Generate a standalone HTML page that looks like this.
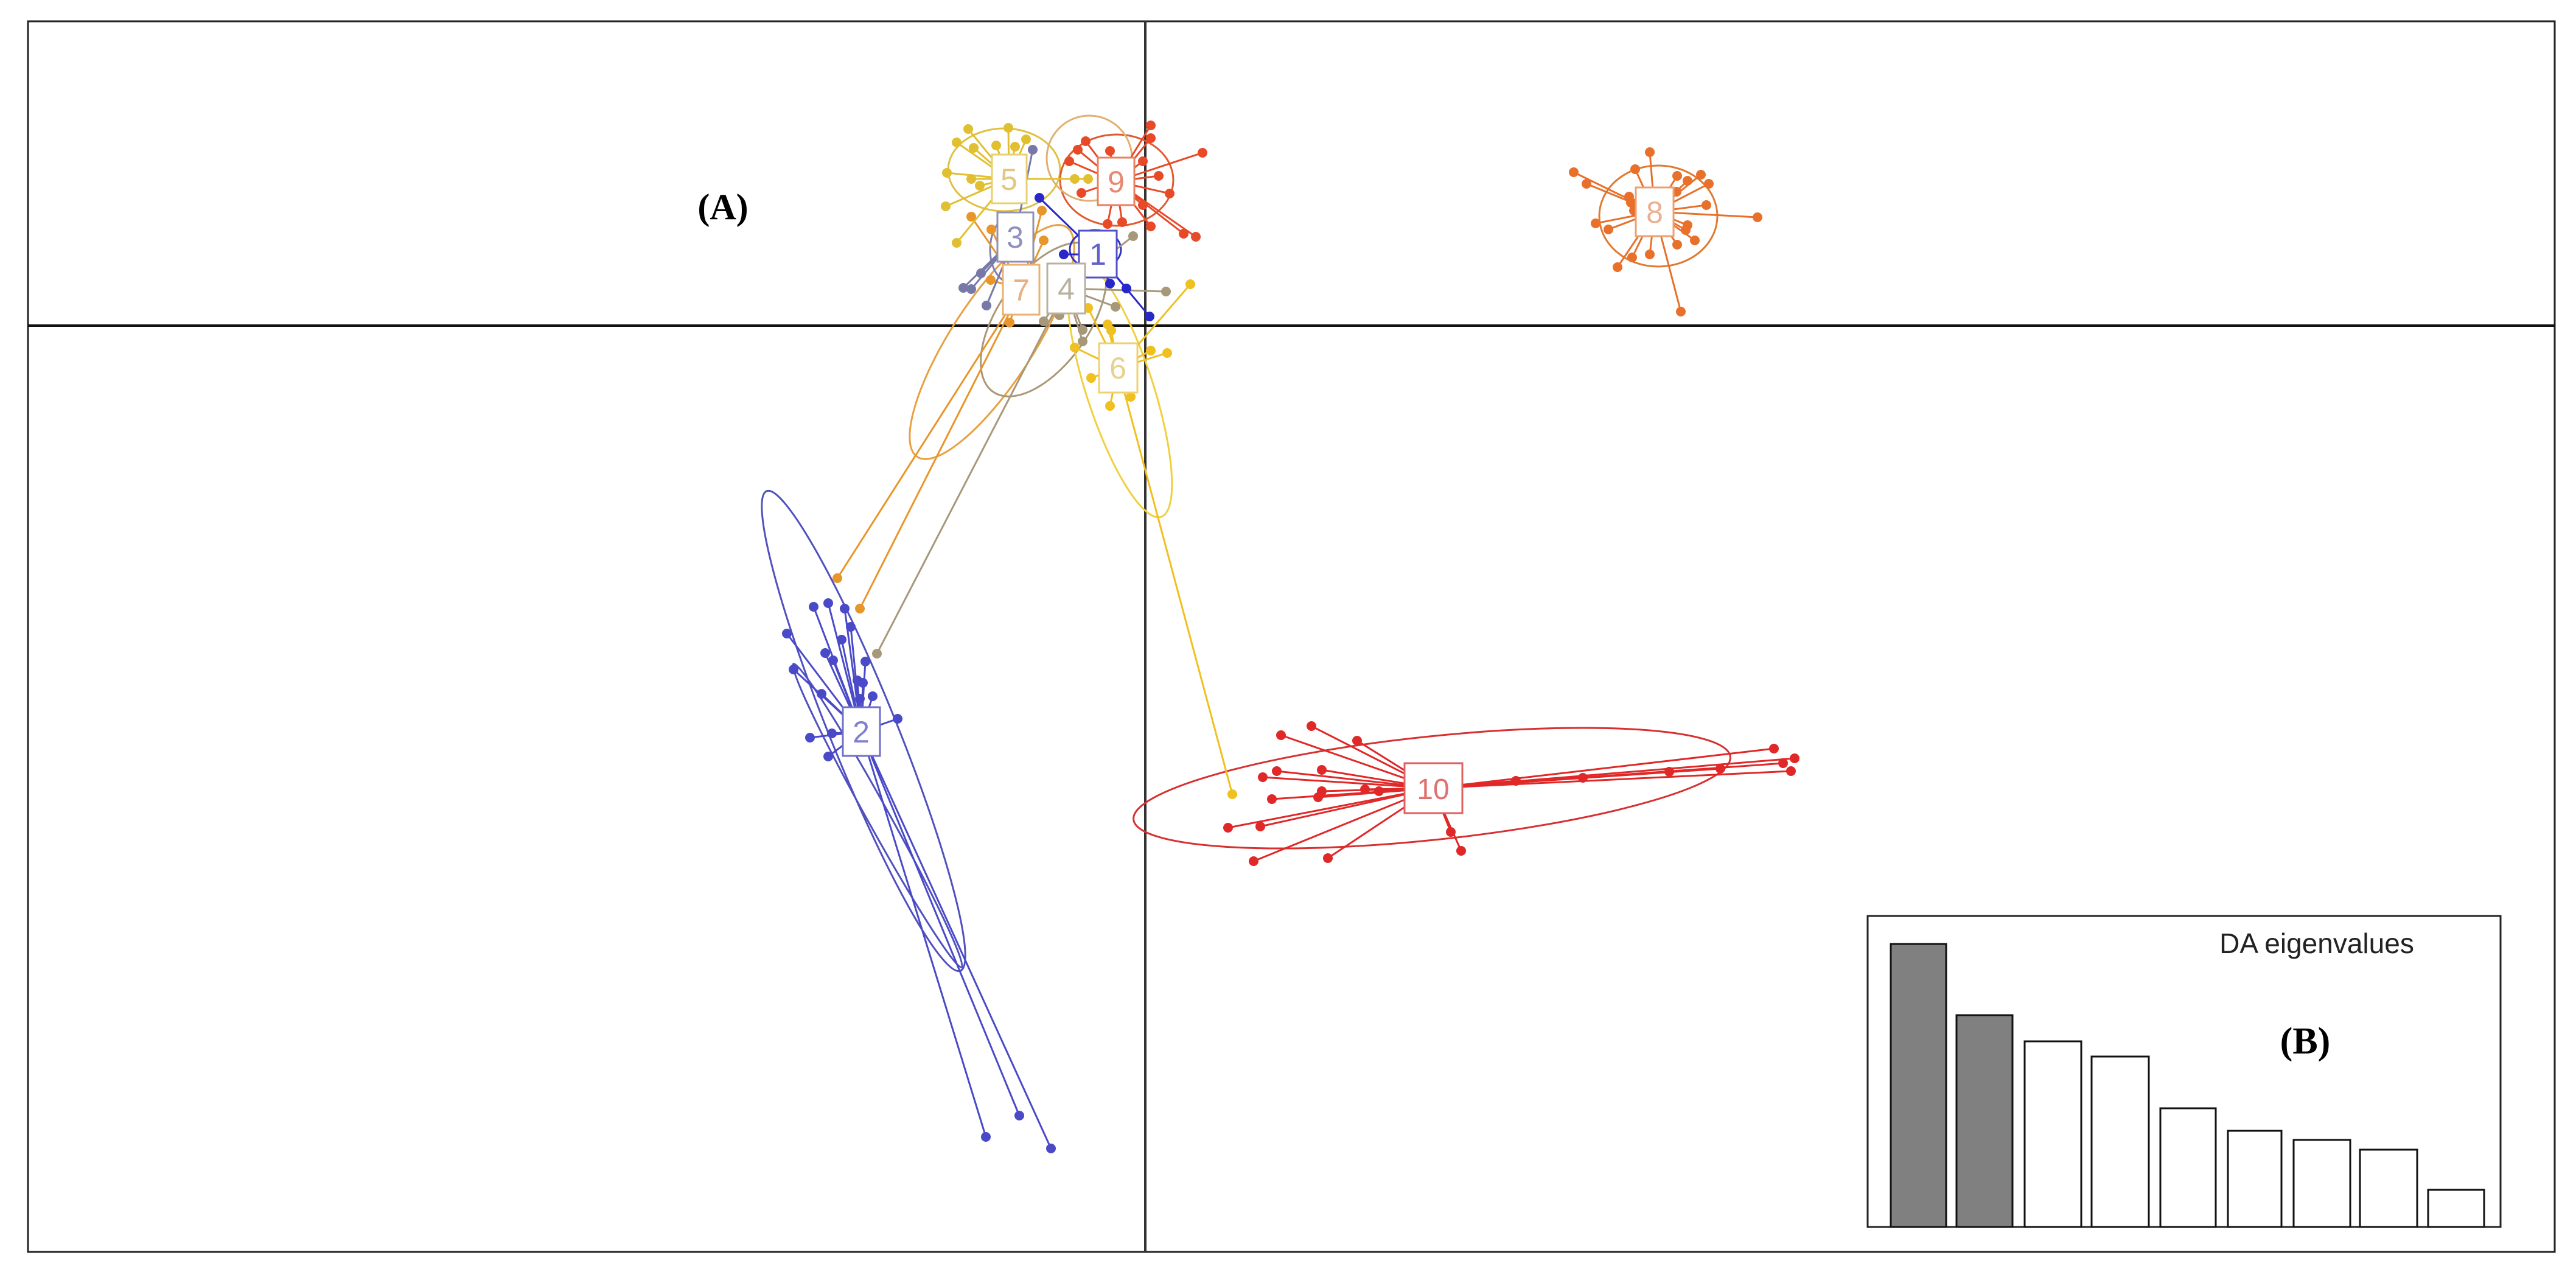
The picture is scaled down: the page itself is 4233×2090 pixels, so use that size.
<!DOCTYPE html>
<html><head><meta charset="utf-8"><style>
html,body{margin:0;padding:0;background:#fff;}
svg{display:block;}
text{font-family:"Liberation Sans",sans-serif;}
</style></head><body>
<svg id="s" width="4233" height="2090" viewBox="0 0 4233 2090" xmlns="http://www.w3.org/2000/svg">
<rect x="0" y="0" width="4233" height="2090" fill="#fff"/>
<rect x="46" y="35" width="4152" height="2022" fill="none" stroke="#222" stroke-width="3"/>
<line x1="1882" y1="35" x2="1882" y2="2057" stroke="#333" stroke-width="4"/>
<line x1="46" y1="535" x2="4198" y2="535" stroke="#111" stroke-width="4"/>
<g id="ell" fill="none" stroke-width="3">
<ellipse cx="1419" cy="1201" rx="425" ry="55" transform="rotate(68 1419 1201)" stroke="#5050c0"/>
<ellipse cx="1442" cy="1340" rx="285" ry="18" transform="rotate(61 1442 1340)" stroke="#5050c0"/>
<ellipse cx="2353" cy="1295" rx="493" ry="85" transform="rotate(-6 2353 1295)" stroke="#d83030"/>
<ellipse cx="2725" cy="355" rx="97" ry="83" stroke="#e07a30"/>
<ellipse cx="1650" cy="279" rx="92" ry="68" stroke="#e0c040"/>
<ellipse cx="1835" cy="296" rx="93" ry="75" stroke="#e05a30"/>
<ellipse cx="1790" cy="260" rx="70" ry="70" stroke="#e0b070"/>
<ellipse cx="1630" cy="562" rx="225" ry="68" transform="rotate(-57 1630 562)" stroke="#e8a040"/>
<ellipse cx="1715" cy="525" rx="145" ry="75" transform="rotate(-55 1715 525)" stroke="#a89878"/>
<ellipse cx="1840" cy="640" rx="220" ry="55" transform="rotate(72 1840 640)" stroke="#f0d040"/>
<ellipse cx="1662" cy="410" rx="35" ry="55" stroke="#8080b0"/>
<ellipse cx="1800" cy="410" rx="42" ry="32" stroke="#3030c0"/>
</g>
<g id="dots"></g>
<g id="boxes" stroke-width="3">
<rect x="1630" y="254" width="57" height="80" fill="#fff" stroke="#e8d070"/>
<text x="1658" y="312" font-size="50" text-anchor="middle" fill="#e0c880">5</text>
<rect x="1804" y="259" width="60" height="78" fill="#fff" stroke="#e88060"/>
<text x="1834" y="316" font-size="50" text-anchor="middle" fill="#e88870">9</text>
<rect x="1639" y="349" width="59" height="81" fill="#fff" stroke="#9090b8"/>
<text x="1668" y="407" font-size="50" text-anchor="middle" fill="#9090c0">3</text>
<rect x="1773" y="379" width="62" height="77" fill="#fff" stroke="#5050c8"/>
<text x="1804" y="435" font-size="50" text-anchor="middle" fill="#6060c8">1</text>
<rect x="1648" y="435" width="60" height="82" fill="#fff" stroke="#eab070"/>
<text x="1678" y="494" font-size="50" text-anchor="middle" fill="#e8b080">7</text>
<rect x="1721" y="433" width="62" height="82" fill="#fff" stroke="#b8b0a0"/>
<text x="1752" y="492" font-size="50" text-anchor="middle" fill="#b8b0a0">4</text>
<rect x="1806" y="564" width="63" height="81" fill="#fff" stroke="#f0d070"/>
<text x="1837" y="622" font-size="50" text-anchor="middle" fill="#e8d090">6</text>
<rect x="2688" y="308" width="62" height="80" fill="#fff" stroke="#eba070"/>
<text x="2719" y="366" font-size="50" text-anchor="middle" fill="#eab090">8</text>
<rect x="1385" y="1162" width="61" height="80" fill="#fff" stroke="#7070c8"/>
<text x="1415" y="1220" font-size="50" text-anchor="middle" fill="#8080d0">2</text>
<rect x="2308" y="1254" width="95" height="82" fill="#fff" stroke="#e06060"/>
<text x="2355" y="1313" font-size="48" text-anchor="middle" fill="#e07070">10</text>
</g>
<text x="1188" y="360" font-size="60" font-weight="bold" text-anchor="middle" fill="#000" style="font-family:'Liberation Serif',serif">(A)</text>
<g>
<rect x="3069" y="1505" width="1040" height="511" fill="#fff" stroke="#222" stroke-width="3"/>
<g stroke="#111" stroke-width="3">
<rect x="3107" y="1551" width="91" height="465" fill="#808080"/>
<rect x="3215" y="1668" width="92" height="348" fill="#808080"/>
<rect x="3327" y="1711" width="93" height="305" fill="#fff"/>
<rect x="3437" y="1736" width="94" height="280" fill="#fff"/>
<rect x="3550" y="1821" width="91" height="195" fill="#fff"/>
<rect x="3661" y="1858" width="88" height="158" fill="#fff"/>
<rect x="3769" y="1873" width="93" height="143" fill="#fff"/>
<rect x="3878" y="1889" width="94" height="127" fill="#fff"/>
<rect x="3990" y="1955" width="92" height="61" fill="#fff"/>
</g>
<text x="3807" y="1566" font-size="46" text-anchor="middle" fill="#222">DA eigenvalues</text>
<text x="3788" y="1731" font-size="62" font-weight="bold" text-anchor="middle" fill="#000" style="font-family:'Liberation Serif',serif">(B)</text>
</g>
</svg>
<script>
var g=document.getElementById('dots'),NS="http://www.w3.org/2000/svg";
function L(x1,y1,x2,y2,c,w){var l=document.createElementNS(NS,'line');l.setAttribute('x1',x1);l.setAttribute('y1',y1);l.setAttribute('x2',x2);l.setAttribute('y2',y2);l.setAttribute('stroke',c);l.setAttribute('stroke-width',w||3);g.appendChild(l);}
function C(x,y,c){var e=document.createElementNS(NS,'circle');e.setAttribute('cx',x);e.setAttribute('cy',y);e.setAttribute('r',8);e.setAttribute('fill',c);g.appendChild(e);}
function S(cx,cy,c,pts){pts.forEach(function(p){L(cx,cy,p[0],p[1],c);});pts.forEach(function(p){C(p[0],p[1],c);});}
S(2355,1295,"#e02828",[[2155,1193],[2105,1208],[2230,1217],[2098,1267],[2075,1277],[2172,1265],[2090,1313],[2166,1310],[2172,1300],[2243,1297],[2266,1300],[2018,1360],[2071,1358],[2060,1415],[2182,1410],[2384,1367],[2401,1398],[2915,1230],[2949,1246],[2930,1254],[2943,1267],[2827,1263],[2743,1268],[2601,1278],[2491,1283]]);
S(2719,348,"#e8702a",[[2586,283],[2607,302],[2677,323],[2680,333],[2685,346],[2622,367],[2643,377],[2711,250],[2687,278],[2756,289],[2773,297],[2795,287],[2808,302],[2755,315],[2804,337],[2888,357],[2773,370],[2770,378],[2785,395],[2756,402],[2711,418],[2682,423],[2658,439],[2762,512]]);
S(1415,1202,"#4a4ac8",[[1337,997],[1361,991],[1388,1000],[1398,1030],[1383,1051],[1356,1073],[1369,1085],[1422,1087],[1409,1118],[1418,1122],[1434,1144],[1413,1148],[1293,1041],[1304,1100],[1350,1140],[1331,1212],[1367,1205],[1361,1243],[1475,1181],[1620,1868],[1675,1833],[1727,1887]]);
S(1678,476,"#e8952a",[[1376,950],[1413,1000],[1596,356],[1629,377],[1628,460],[1715,395],[1659,530],[1712,346]]);
S(1752,474,"#a8987a",[[1441,1074],[1862,388],[1916,479],[1833,504],[1779,542],[1779,561],[1715,528],[1741,518]]);
S(1837,605,"#f0c020",[[2025,1305],[1956,467],[1766,571],[1788,506],[1820,533],[1826,543],[1793,621],[1891,576],[1918,580],[1824,667],[1858,652]]);
S(1658,294,"#e0c030",[[1591,212],[1657,210],[1572,234],[1600,243],[1637,239],[1668,241],[1686,229],[1556,284],[1596,294],[1610,305],[1554,339],[1572,399],[1766,294],[1788,294]]);
S(1834,298,"#e84a28",[[1891,206],[1891,227],[1976,251],[1784,232],[1771,246],[1824,248],[1757,265],[1878,265],[1904,289],[1922,318],[1777,317],[1891,372],[1945,384],[1965,389],[1820,368],[1844,365],[1878,337]]);
S(1668,390,"#7878a8",[[1697,246],[1583,473],[1596,475],[1621,502],[1612,449]]);
S(1804,418,"#2828c8",[[1708,325],[1748,418],[1824,466],[1851,474],[1889,520]]);
</script>
</body></html>
